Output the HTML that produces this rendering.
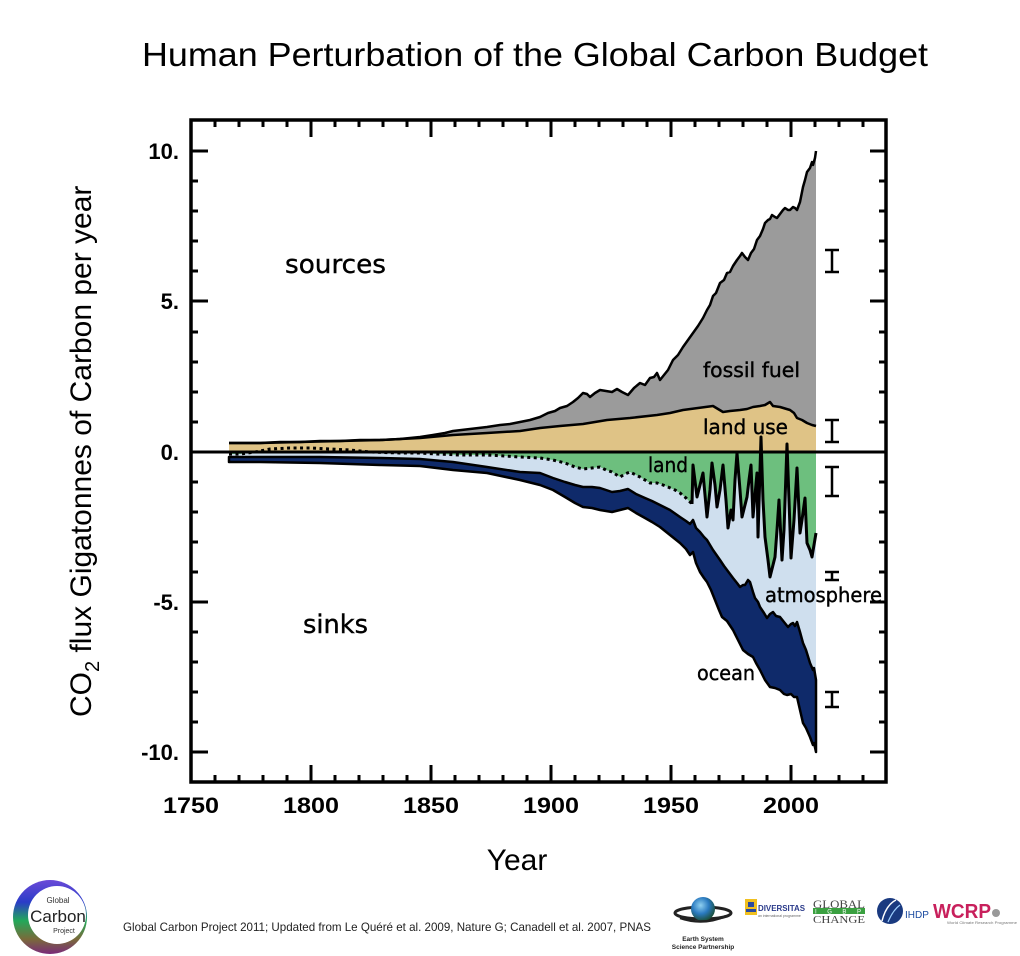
<!DOCTYPE html>
<html><head><meta charset="utf-8"><style>
html,body{margin:0;padding:0;background:#fff;}
svg{display:block;}
</style></head><body>
<svg width="1020" height="956" viewBox="0 0 1020 956" xmlns="http://www.w3.org/2000/svg">
<rect width="1020" height="956" fill="#fff"/>
<defs>
<linearGradient id="gcp" x1="0" y1="0" x2="0" y2="1">
<stop offset="0" stop-color="#6a4ad8"/><stop offset="0.3" stop-color="#2a3cc8"/><stop offset="0.55" stop-color="#22a85a"/><stop offset="0.8" stop-color="#7a6a3a"/><stop offset="1" stop-color="#7a2a7a"/>
</linearGradient>
<radialGradient id="globe" cx="0.4" cy="0.35" r="0.7"><stop offset="0" stop-color="#8fd0f0"/><stop offset="0.5" stop-color="#2a7ac0"/><stop offset="1" stop-color="#1a4a2a"/></radialGradient>
</defs>

<!-- Title -->
<text x="142" y="66" font-family="Liberation Sans, Arial, sans-serif" font-size="33" textLength="786" lengthAdjust="spacingAndGlyphs" fill="#000">Human Perturbation of the Global Carbon Budget</text>

<!-- Y axis label -->
<text transform="translate(91,717) rotate(-90)" font-family="Liberation Sans, Arial, sans-serif" font-size="30" fill="#000">CO<tspan font-size="20" dy="8">2</tspan><tspan dy="-8"> flux Gigatonnes of Carbon per year</tspan></text>

<!-- Fills -->
<!-- light blue atmosphere -->
<path fill="#cfdfee" d="M229,452 L816,452 L816,680 L814,668 L813,670 L810,663 L806,650 L803,643 L800,632 L797,622 L795,626 L793,623 L791,624 L788,627 L784,622 L780,617 L776,616 L773,612 L770,614 L767,618 L764,613 L760,607 L758,602 L755,598 L753,592 L750,582 L748,580 L745,585 L743,585 L740,587 L737,583 L733,578 L727,570 L724,566 L720,560 L713,550 L707,540 L704,537 L700,532 L696,528 L693,520 L690,524 L686,521 L680,517 L670,510 L660,505 L652,501 L645,498 L636,494 L628,489 L620,491 L612,492 L606,490 L600,488 L592,487 L583,487 L575,485 L565,482 L553,478 L540,473 L520,472 L487,467 L453,462 L420,459 L380,458 L320,457 L260,457 L229,457 Z"/>
<!-- green land -->
<path fill="#6dbf7e" d="M229,452 L229,454 L240,454 L255,452 L270,452 L350,452 L370,452 L400,453 L420,453 L437,454 L460,455 L487,455 L505,456 L520,457 L540,458 L553,460 L565,463 L575,467 L583,469 L592,468 L600,467 L606,470 L612,472 L620,477 L625,474 L630,472 L640,477 L645,480 L650,483 L657,483 L663,485 L668,487 L675,490 L680,493 L686,498 L692,504 L693,465 L697,497 L700,485 L703,473 L707,517 L710,490 L712,463 L715,485 L717,507 L720,490 L723,465 L726,500 L728,528 L731,510 L733,520 L735,480 L737,453 L740,490 L742,517 L745,505 L747,497 L749,480 L751,465 L753,517 L755,495 L757,473 L758,537 L760,470 L761,452 L763,500 L765,537 L768,560 L770,577 L773,565 L775,557 L777,530 L779,500 L782,560 L784,530 L787,452 L789,500 L791,558 L794,520 L797,468 L800,533 L802,520 L805,498 L807,543 L810,550 L812,557 L814,545 L816,533 L816,452 Z"/>
<!-- navy ocean -->
<path fill="#0f2a6a" stroke="#000" stroke-width="2.5" stroke-linejoin="round" d="M229,457 L260,457 L320,457 L380,458 L420,459 L453,462 L487,467 L520,472 L540,473 L553,478 L565,482 L575,485 L583,487 L592,487 L600,488 L606,490 L612,492 L620,491 L628,489 L636,494 L645,498 L652,501 L660,505 L670,510 L680,517 L686,521 L690,524 L693,520 L696,528 L700,532 L704,537 L707,540 L713,550 L720,560 L724,566 L727,570 L733,578 L737,583 L740,587 L743,585 L745,585 L748,580 L750,582 L753,592 L755,598 L758,602 L760,607 L764,613 L767,618 L770,614 L773,612 L776,616 L780,617 L784,622 L788,627 L791,624 L793,623 L795,626 L797,622 L800,632 L803,643 L806,650 L810,663 L813,670 L814,668 L816,680 L816,752 L814,743 L813,745 L810,737 L806,728 L803,723 L800,710 L797,697 L794,697 L791,694 L787,695 L784,694 L780,690 L775,688 L770,687 L765,680 L760,670 L756,663 L753,657 L748,654 L743,650 L738,640 L733,630 L727,621 L722,617 L719,610 L715,600 L711,590 L707,582 L704,578 L700,572 L696,563 L693,552 L690,555 L686,549 L680,543 L670,535 L660,527 L652,522 L645,518 L636,513 L628,508 L620,510 L612,512 L606,511 L600,510 L592,508 L583,507 L575,503 L565,497 L553,490 L540,485 L520,480 L487,473 L453,470 L420,466 L380,465 L320,463 L260,462 L229,462 Z"/>
<!-- tan land use -->
<path fill="#dfc386" d="M229,443 L260,443 L300,442 L340,441 L380,440 L420,438 L453,435 L487,433 L520,431 L540,428 L560,426 L583,424 L607,420 L630,418 L657,415 L670,413 L683,410 L698,408 L713,406 L718,409 L723,412 L730,411 L740,410 L747,409 L753,407 L760,406 L765,405 L770,402 L773,406 L780,407 L790,410 L794,413 L797,418 L802,420 L807,423 L812,425 L816,426 L816,452 L229,452 Z"/>
<!-- gray fossil -->
<path fill="#9b9b9b" d="M229,443 L240,443 L260,443 L280,442 L300,442 L320,441 L340,441 L360,440 L380,440 L400,439 L420,437 L433,435 L445,433 L453,431 L470,429 L487,427 L500,425 L510,424 L520,422 L530,420 L540,417 L548,413 L555,411 L560,408 L567,406 L573,402 L578,398 L583,393 L587,394 L590,397 L595,393 L600,390 L606,391 L612,392 L617,389 L622,392 L628,395 L634,388 L640,383 L645,385 L650,378 L654,377 L657,373 L660,380 L664,375 L668,370 L673,360 L678,355 L683,347 L688,340 L693,333 L698,326 L703,318 L707,310 L710,305 L713,296 L716,293 L720,283 L724,280 L727,273 L730,272 L733,266 L737,260 L740,256 L742,253 L745,257 L748,260 L751,253 L754,249 L757,240 L760,236 L763,229 L765,223 L768,220 L770,219 L772,215 L775,217 L777,218 L780,214 L783,210 L785,208 L788,210 L790,210 L793,207 L795,208 L797,210 L800,202 L803,187 L805,180 L807,172 L810,168 L812,162 L813,165 L815,158 L816,151 L816,426 L812,425 L807,423 L802,420 L797,418 L794,413 L790,410 L780,407 L773,406 L770,402 L765,405 L760,406 L753,407 L747,409 L740,410 L730,411 L723,412 L718,409 L713,406 L698,408 L683,410 L670,413 L657,415 L630,418 L607,420 L583,424 L560,426 L540,428 L520,431 L487,433 L453,435 L420,438 L380,440 L340,441 L300,442 L260,443 L229,443 Z"/>

<!-- Lines -->
<g fill="none" stroke="#000" stroke-width="2.5" stroke-linejoin="round">
<path d="M229,443 L240,443 L260,443 L280,442 L300,442 L320,441 L340,441 L360,440 L380,440 L400,439 L420,437 L433,435 L445,433 L453,431 L470,429 L487,427 L500,425 L510,424 L520,422 L530,420 L540,417 L548,413 L555,411 L560,408 L567,406 L573,402 L578,398 L583,393 L587,394 L590,397 L595,393 L600,390 L606,391 L612,392 L617,389 L622,392 L628,395 L634,388 L640,383 L645,385 L650,378 L654,377 L657,373 L660,380 L664,375 L668,370 L673,360 L678,355 L683,347 L688,340 L693,333 L698,326 L703,318 L707,310 L710,305 L713,296 L716,293 L720,283 L724,280 L727,273 L730,272 L733,266 L737,260 L740,256 L742,253 L745,257 L748,260 L751,253 L754,249 L757,240 L760,236 L763,229 L765,223 L768,220 L770,219 L772,215 L775,217 L777,218 L780,214 L783,210 L785,208 L788,210 L790,210 L793,207 L795,208 L797,210 L800,202 L803,187 L805,180 L807,172 L810,168 L812,162 L813,165 L815,158 L816,151"/>
<path d="M229,443 L260,443 L300,442 L340,441 L380,440 L420,438 L453,435 L487,433 L520,431 L540,428 L560,426 L583,424 L607,420 L630,418 L657,415 L670,413 L683,410 L698,408 L713,406 L718,409 L723,412 L730,411 L740,410 L747,409 L753,407 L760,406 L765,405 L770,402 L773,406 L780,407 L790,410 L794,413 L797,418 L802,420 L807,423 L812,425 L816,426"/>
<path stroke-width="3" d="M692,504 L693,465 L697,497 L700,485 L703,473 L707,517 L710,490 L712,463 L715,485 L717,507 L720,490 L723,465 L726,500 L728,528 L731,510 L733,520 L735,480 L737,453 L740,490 L742,517 L745,505 L747,497 L749,480 L751,465 L753,517 L755,495 L757,473 L758,537 L760,470 L761,437 L763,500 L765,537 L768,560 L770,577 L773,565 L775,557 L777,530 L779,500 L782,560 L784,530 L787,444 L789,500 L791,558 L794,520 L797,468 L800,533 L802,520 L805,498 L807,543 L810,550 L812,557 L814,545 L816,533"/>
<path stroke-width="3" stroke-dasharray="3,3.5" stroke-linejoin="miter" d="M229,454 L240,454 L255,452 L270,449 L290,448 L310,448 L330,449 L350,450 L370,452 L400,453 L420,453 L437,454 L460,455 L487,455 L505,456 L520,457 L540,458 L553,460 L565,463 L575,467 L583,469 L592,468 L600,467 L606,470 L612,472 L620,477 L625,474 L630,472 L640,477 L645,480 L650,483 L657,483 L663,485 L668,487 L675,490 L680,493 L686,498 L692,504"/>
</g>

<!-- zero line -->
<line x1="191" y1="452" x2="886" y2="452" stroke="#000" stroke-width="3"/>

<!-- error bars -->
<g stroke="#000" stroke-width="2.5" fill="none">
<path d="M825,250 H839 M832,250 V272 M825,272 H839"/>
<path d="M825,420 H839 M832,420 V442 M825,442 H839"/>
<path d="M825,467 H839 M832,467 V496 M825,496 H839"/>
<path d="M825,572 H839 M832,572 V580 M825,580 H839"/>
<path d="M825,692 H839 M832,692 V707 M825,707 H839"/>
</g>

<!-- Region labels -->
<g font-family="DejaVu Sans, Liberation Sans, sans-serif" fill="#000" stroke="#000" stroke-width="0.4">
<text x="285" y="273" font-size="26" textLength="101" lengthAdjust="spacingAndGlyphs">sources</text>
<text x="303" y="633" font-size="26" textLength="65" lengthAdjust="spacingAndGlyphs">sinks</text>
<text x="703" y="377" font-size="20" textLength="97" lengthAdjust="spacingAndGlyphs">fossil fuel</text>
<text x="703" y="434" font-size="20" textLength="85" lengthAdjust="spacingAndGlyphs">land use</text>
<text x="648" y="472" font-size="20" textLength="40" lengthAdjust="spacingAndGlyphs">land</text>
<text x="765" y="602" font-size="20" textLength="117" lengthAdjust="spacingAndGlyphs">atmosphere</text>
<text x="697" y="680" font-size="20" textLength="58" lengthAdjust="spacingAndGlyphs">ocean</text>
</g>

<!-- Frame -->
<rect x="191" y="120" width="695" height="662" fill="none" stroke="#000" stroke-width="3.5"/>

<!-- Ticks -->
<g stroke="#000" stroke-width="3">
<!-- left majors -->
<path d="M191,151 H208 M191,301 H208 M191,452 H208 M191,602 H208 M191,752 H208"/>
<!-- left minors -->
<path d="M191,181 H198 M191,211 H198 M191,241 H198 M191,271 H198 M191,332 H198 M191,362 H198 M191,392 H198 M191,422 H198 M191,482 H198 M191,512 H198 M191,542 H198 M191,572 H198 M191,632 H198 M191,662 H198 M191,692 H198 M191,722 H198"/>
<!-- right majors -->
<path d="M886,151 H870 M886,301 H870 M886,452 H870 M886,602 H870 M886,752 H870"/>
<!-- right minors -->
<path d="M886,181 H879 M886,211 H879 M886,241 H879 M886,271 H879 M886,332 H879 M886,362 H879 M886,392 H879 M886,422 H879 M886,482 H879 M886,512 H879 M886,542 H879 M886,572 H879 M886,632 H879 M886,662 H879 M886,692 H879 M886,722 H879"/>
<!-- bottom majors -->
<path d="M311,782 V765 M431,782 V765 M551,782 V765 M671,782 V765 M791,782 V765"/>
<!-- bottom minors -->
<path d="M215,782 V775 M239,782 V775 M263,782 V775 M287,782 V775 M335,782 V775 M359,782 V775 M383,782 V775 M407,782 V775 M455,782 V775 M479,782 V775 M503,782 V775 M527,782 V775 M575,782 V775 M599,782 V775 M623,782 V775 M647,782 V775 M695,782 V775 M719,782 V775 M743,782 V775 M767,782 V775 M815,782 V775 M839,782 V775 M863,782 V775"/>
<!-- top majors -->
<path d="M311,120 V137 M431,120 V137 M551,120 V137 M671,120 V137 M791,120 V137"/>
<!-- top minors -->
<path d="M215,120 V127 M239,120 V127 M263,120 V127 M287,120 V127 M335,120 V127 M359,120 V127 M383,120 V127 M407,120 V127 M455,120 V127 M479,120 V127 M503,120 V127 M527,120 V127 M575,120 V127 M599,120 V127 M623,120 V127 M647,120 V127 M695,120 V127 M719,120 V127 M743,120 V127 M767,120 V127 M815,120 V127 M839,120 V127 M863,120 V127"/>
</g>

<!-- Tick labels -->
<g font-family="Liberation Sans, Arial, sans-serif" font-weight="bold" font-size="22" fill="#000">
<text x="179" y="159" text-anchor="end">10.</text>
<text x="179" y="309" text-anchor="end">5.</text>
<text x="179" y="460" text-anchor="end">0.</text>
<text x="179" y="610" text-anchor="end">-5.</text>
<text x="179" y="760" text-anchor="end">-10.</text>
<text x="163" y="813" textLength="56" lengthAdjust="spacingAndGlyphs">1750</text>
<text x="283" y="813" textLength="56" lengthAdjust="spacingAndGlyphs">1800</text>
<text x="403" y="813" textLength="56" lengthAdjust="spacingAndGlyphs">1850</text>
<text x="523" y="813" textLength="56" lengthAdjust="spacingAndGlyphs">1900</text>
<text x="643" y="813" textLength="56" lengthAdjust="spacingAndGlyphs">1950</text>
<text x="763" y="813" textLength="56" lengthAdjust="spacingAndGlyphs">2000</text>
</g>

<!-- X axis title -->
<text x="517" y="870" text-anchor="middle" font-family="Liberation Sans, Arial, sans-serif" font-size="30" fill="#000">Year</text>

<!-- Footnote -->
<text x="123" y="931" font-family="Liberation Sans, Arial, sans-serif" font-size="12" textLength="528" lengthAdjust="spacingAndGlyphs" fill="#222">Global Carbon Project 2011; Updated from Le Quéré et al. 2009, Nature G; Canadell et al. 2007, PNAS</text>

<!-- GCP logo -->
<circle cx="50" cy="917" r="37" fill="url(#gcp)"/>
<circle cx="57" cy="915" r="29" fill="#fff"/>
<text x="58" y="903" text-anchor="middle" font-family="Liberation Sans, Arial, sans-serif" font-size="8" fill="#333">Global</text>
<text x="58" y="922" text-anchor="middle" font-family="Liberation Sans, Arial, sans-serif" font-size="17" fill="#222">Carbon</text>
<text x="64" y="933" text-anchor="middle" font-family="Liberation Sans, Arial, sans-serif" font-size="7" fill="#333">Project</text>

<!-- ESSP logo -->
<ellipse cx="703" cy="913" rx="28" ry="6" fill="none" stroke="#222" stroke-width="3"/>
<circle cx="703" cy="909" r="12" fill="url(#globe)"/>
<path d="M680,918 Q703,926 726,916" fill="none" stroke="#222" stroke-width="2.5"/>
<text x="703" y="941" text-anchor="middle" font-family="Liberation Sans, Arial, sans-serif" font-weight="bold" font-size="6.5" fill="#222">Earth System</text>
<text x="703" y="949" text-anchor="middle" font-family="Liberation Sans, Arial, sans-serif" font-weight="bold" font-size="6.5" fill="#222">Science Partnership</text>

<!-- DIVERSITAS -->
<rect x="745" y="899" width="12" height="16" fill="#f0c020"/>
<rect x="748" y="902" width="6" height="5" fill="#2a4aa0"/>
<rect x="746" y="909" width="10" height="3" fill="#2a4aa0"/>
<text x="758" y="911" font-family="Liberation Sans, Arial, sans-serif" font-weight="bold" font-size="8" fill="#2a3a8a" textLength="47" lengthAdjust="spacingAndGlyphs">DIVERSITAS</text>
<text x="758" y="917" font-family="Liberation Sans, Arial, sans-serif" font-size="3.5" fill="#666">an international programme</text>

<!-- GLOBAL IGBP CHANGE -->
<text x="813" y="908" font-family="Liberation Serif, serif" font-size="12" fill="#444" textLength="52" lengthAdjust="spacingAndGlyphs">GLOBAL</text>
<rect x="813" y="908" width="52" height="6" fill="#3aa040"/>
<text x="815" y="913.5" font-family="Liberation Sans, Arial, sans-serif" font-size="6" fill="#fff" textLength="46" lengthAdjust="spacing">I G B P</text>
<text x="813" y="923" font-family="Liberation Serif, serif" font-size="11" fill="#444" textLength="52" lengthAdjust="spacingAndGlyphs">CHANGE</text>

<!-- IHDP -->
<circle cx="890" cy="911" r="13" fill="#1a3a80"/>
<path d="M882,921 Q886,905 896,900" fill="none" stroke="#fff" stroke-width="1.5"/>
<path d="M888,922 Q893,910 900,905" fill="none" stroke="#9fd0ff" stroke-width="1.2"/>
<text x="905" y="918" font-family="Liberation Sans, Arial, sans-serif" font-size="10" fill="#1a4aa0">IHDP</text>

<!-- WCRP -->
<text x="933" y="918" font-family="Liberation Sans, Arial, sans-serif" font-weight="bold" font-size="20" fill="#c8205c" textLength="58" lengthAdjust="spacingAndGlyphs">WCRP</text>
<circle cx="996" cy="913" r="4" fill="#999"/>
<text x="947" y="924" font-family="Liberation Sans, Arial, sans-serif" font-size="4" fill="#777" textLength="70" lengthAdjust="spacingAndGlyphs">World Climate Research Programme</text>
</svg>
</body></html>
